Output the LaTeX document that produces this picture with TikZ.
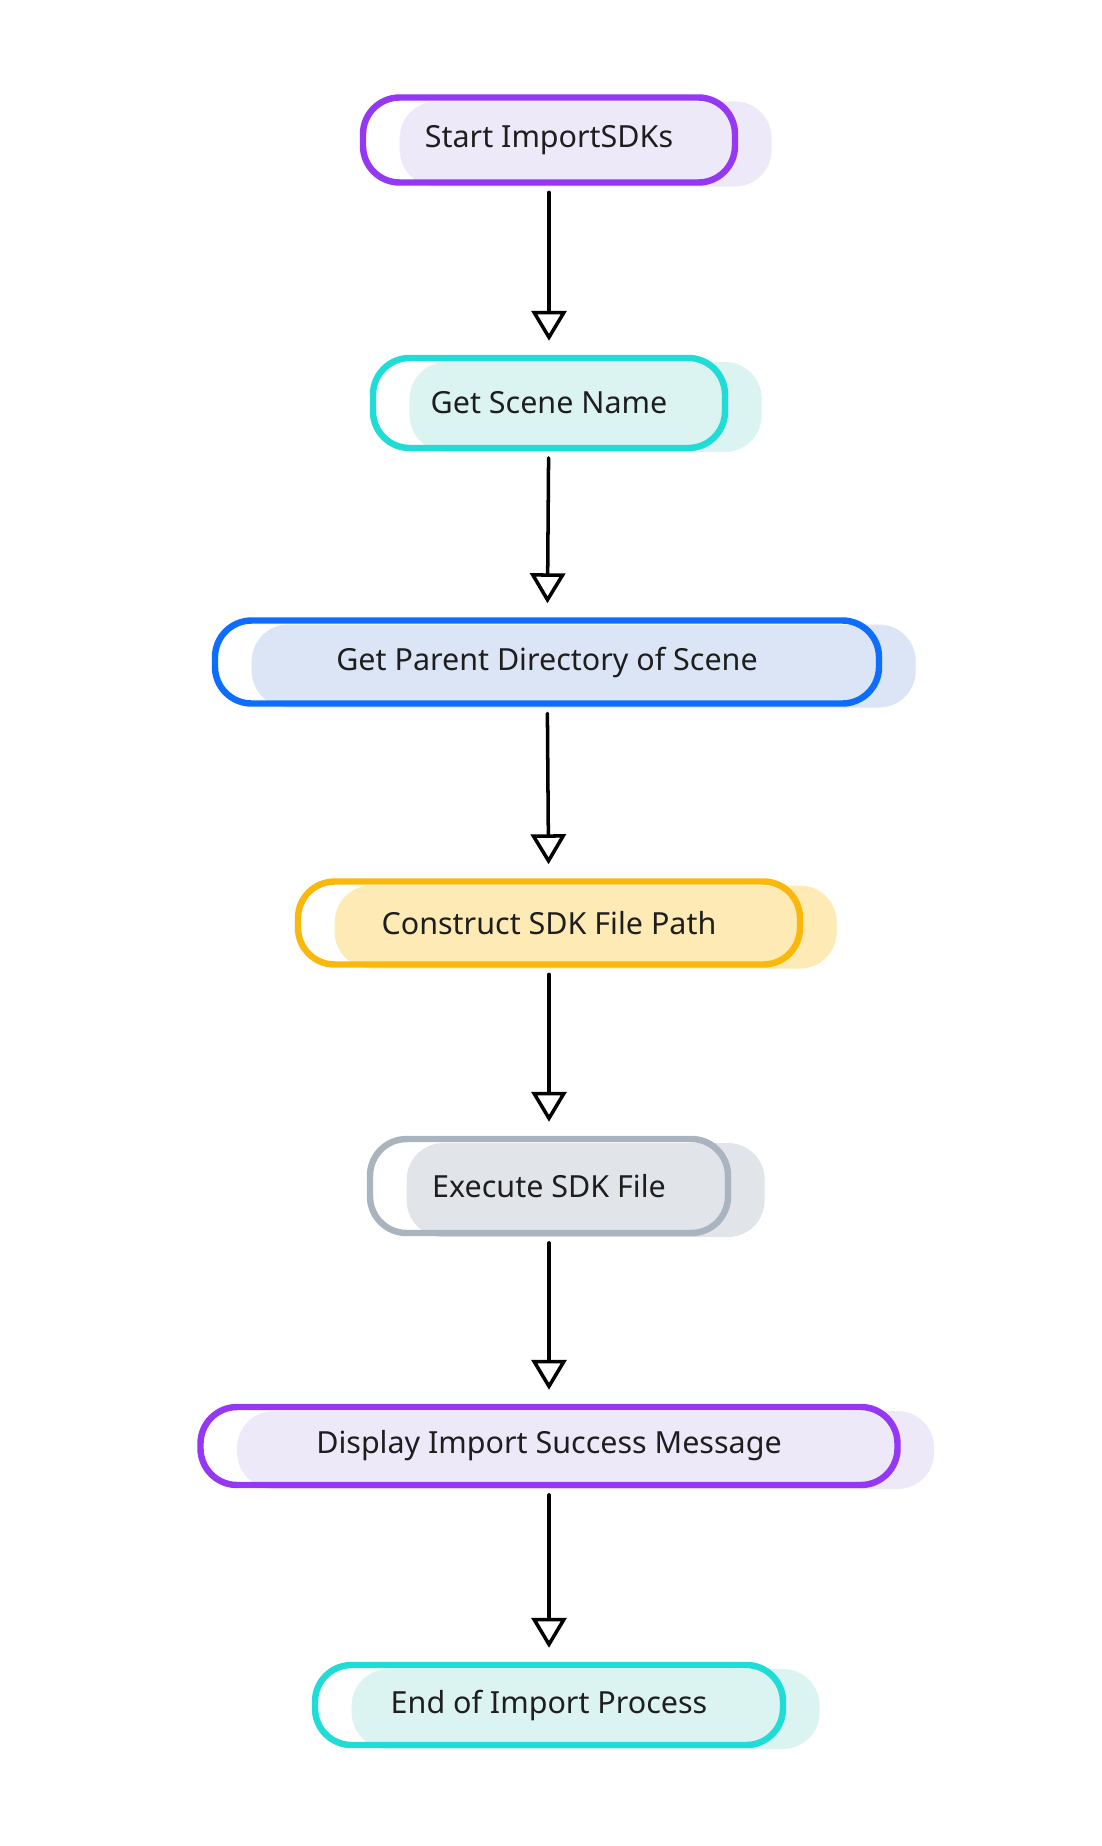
\documentclass[tikz,border=0pt]{standalone}
\usepackage{fontspec}
\setmainfont{Noto Sans}
\usepackage{xcolor}
\usetikzlibrary{arrows.meta, positioning}

\definecolor{violetline}{HTML}{9438F4}
\definecolor{violetfill}{HTML}{EEE9F9}
\definecolor{cyanline}{HTML}{20DCD6}
\definecolor{cyanfill}{HTML}{DCF4F1}
\definecolor{blueline}{HTML}{0D6EFD}
\definecolor{bluefill}{HTML}{DBE5F6}
\definecolor{yellowline}{HTML}{FBB80C}
\definecolor{yellowfill}{HTML}{FDEAB4}
\definecolor{greyline}{HTML}{A9B4BF}
\definecolor{greyfill}{HTML}{E1E5EA}
\definecolor{inkblack}{HTML}{1E1E1E}

\begin{document}
\begin{tikzpicture}[
  x=0.03cm, y=-0.03cm,
  stepbox/.style={draw=#1line, line width=5.5pt, rounded corners=1.1cm,
    text=inkblack, font=\fontsize{26}{30}\selectfont,
    preaction={fill=#1fill, draw=none, transform canvas={xshift=1.1cm, yshift=-0.12cm}}},
  flow/.style={line width=3pt, line cap=round,
    -{Triangle[open, length=0.9cm, width=1.05cm, line width=3pt]},
    shorten <=0.2cm, shorten >=0.42cm}
]
\useasboundingbox (0,0) rectangle (1102,1846);

% steps
\node[stepbox=violet, minimum width=11.16cm, minimum height=2.55cm] (start) at (549,140) {Start ImportSDKs};
\node[stepbox=cyan, minimum width=10.56cm, minimum height=2.7cm] (scene) at (549,403) {Get Scene Name};
\node[stepbox=blue, minimum width=19.92cm, minimum height=2.49cm] (parent) at (547,662) {Get Parent Directory of Scene};
\node[stepbox=yellow, minimum width=15.06cm, minimum height=2.49cm] (path) at (549,923) {Construct SDK File Path};
\node[stepbox=grey, minimum width=10.74cm, minimum height=2.82cm] (exec) at (549,1186) {Execute SDK File};
\node[stepbox=violet, minimum width=20.91cm, minimum height=2.34cm] (message) at (549,1446) {Display Import Success Message};
\node[stepbox=cyan, minimum width=14.04cm, minimum height=2.4cm] (finish) at (549,1705) {End of Import Process};

% connectors
\draw[flow] (start) -- (scene);
\draw[flow] (scene) -- (parent);
\draw[flow] (parent) -- (path);
\draw[flow] (path) -- (exec);
\draw[flow] (exec) -- (message);
\draw[flow] (message) -- (finish);
\end{tikzpicture}
\end{document}
